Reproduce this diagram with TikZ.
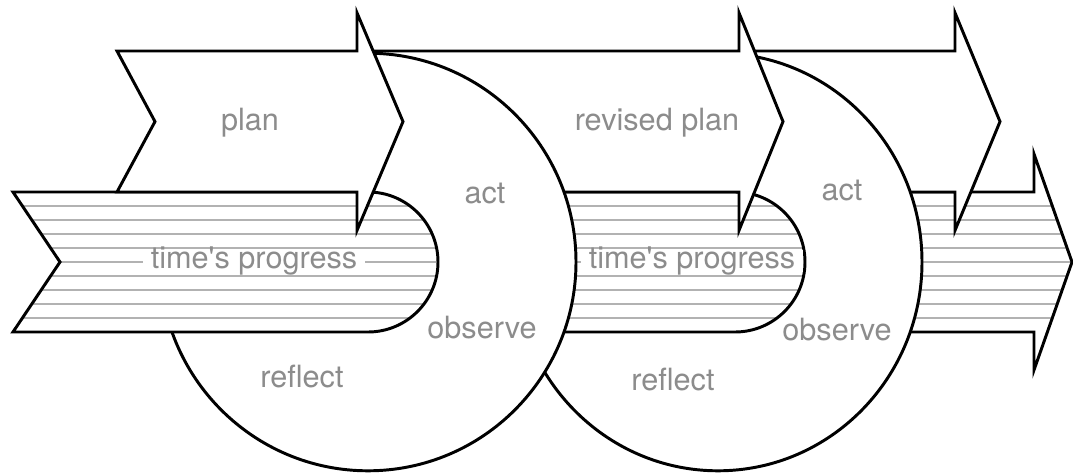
\documentclass[tikz,border=0pt]{standalone}
\usepackage{fontspec}
\setmainfont{TeX Gyre Heros}
\tikzset{
    outline/.style={line width=2.1pt, black, line join=miter},
    hatch/.style={line width=1.1pt, black!30},
    timebar/.style={outline, fill=white, path picture={
        \foreach \y in {-1.4,-1.05,...,1.45} \draw[hatch] (0,\y) -- (27,\y);}},
    planbar/.style={outline, fill=white},
    loopdisk/.style={outline, fill=white},
    lbl/.style={text=black!45, font=\fontsize{21.8}{26}\selectfont, inner sep=0pt},
    timelbl/.style={lbl, fill=white, anchor=base, text height=0.4cm, text depth=0cm, inner ysep=2pt, inner xsep=0.2cm}
}

\begin{document}
\begin{tikzpicture}
            \useasboundingbox (0,-5.25) rectangle (26.825,6.55);

            \draw[timebar] (21.5,1.75) -- (25.85,1.75) -- (25.85,2.7) -- (26.8,0) -- (25.85,-2.7) -- (25.85,-1.75) -- (21.5,-1.75) -- (22.675,0) -- cycle;
            \draw[planbar] (18.6,5.275) -- (23.875,5.275) -- (23.875,6.23) -- (25,3.51) -- (23.875,0.79) -- (23.875,1.75) -- (18.6,1.75) -- (19.55,3.51) -- cycle;
            \draw[loopdisk] (17.95,0) ellipse (5.1 and 5.22);

            \draw[timebar] (12.5,1.75) -- (18.375,1.75) arc (90:-90:1.75) -- (12.5,-1.75) -- (13.675,0) -- cycle;
            \draw[planbar] (9.1,5.275) -- (18.475,5.275) -- (18.475,6.23) -- (19.575,3.51) -- (18.475,0.79) -- (18.475,1.75) -- (9.1,1.75) -- (10.05,3.51) -- cycle;
            \draw[loopdisk] (9.2,0) ellipse (5.2 and 5.22);

            \draw[timebar] (0.325,1.75) -- (9.2,1.75) arc (90:-90:1.75) -- (0.325,-1.75) -- (1.5,0) -- cycle;
            \draw[planbar] (2.925,5.275) -- (8.925,5.275) -- (8.925,6.23) -- (10.075,3.51) -- (8.925,0.79) -- (8.925,1.75) -- (2.925,1.75) -- (3.875,3.51) -- cycle;

            \node[lbl] (plan) at (6.25,3.475) {plan};
            \node[timelbl] (time1) at (6.35,-0.17) {time\textquotesingle s progress};
            \node[lbl] (reflect1) at (7.55,-2.875) {reflect};
            \node[lbl] (act1) at (12.125,1.725) {act};
            \node[lbl] (observe1) at (12.05,-1.65) {observe};

            \node[lbl] (revplan) at (16.425,3.475) {revised plan};
            \node[timelbl] (time2) at (17.3,-0.17) {time\textquotesingle s progress};
            \node[lbl] (reflect2) at (16.825,-2.95) {reflect};
            \node[lbl] (act2) at (21.05,1.8) {act};
            \node[lbl] (observe2) at (20.925,-1.7) {observe};
        \end{tikzpicture}
\end{document}
